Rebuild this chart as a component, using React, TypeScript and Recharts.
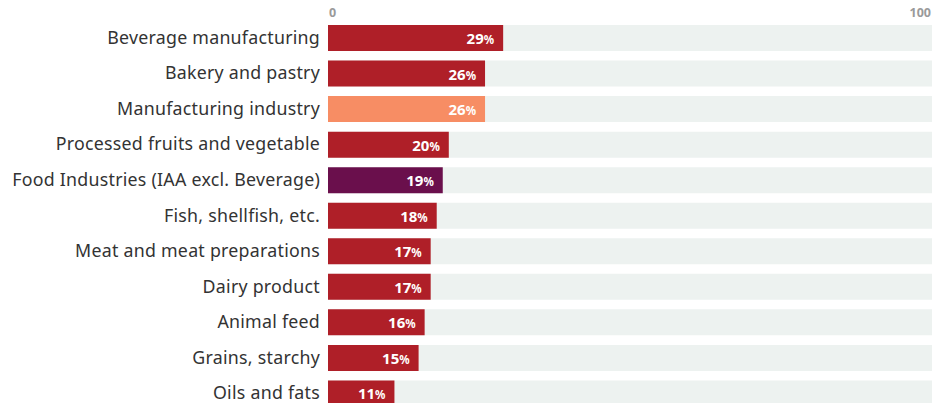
import React from "react";
import { BarChart, Bar, XAxis, YAxis, Cell, LabelList } from "recharts";

const categories = [
  "Beverage manufacturing",
  "Bakery and pastry",
  "Manufacturing industry",
  "Processed fruits and vegetable",
  "Food Industries (IAA excl. Beverage)",
  "Fish, shellfish, etc.",
  "Meat and meat preparations",
  "Dairy product",
  "Animal feed",
  "Grains, starchy",
  "Oils and fats",
];
const shares = [29, 26, 26, 20, 19, 18, 17, 17, 16, 15, 11];
const groups = ["sector", "sector", "total", "sector", "food", "sector", "sector", "sector", "sector", "sector", "sector"];
const axisTicks = [0, 100];

const groupColors: Record<string, string> = {
  sector: "#AF1F28",
  total: "#F78D64",
  food: "#6A0F4C",
};

const data = categories.map((name, i) => ({ name, value: shares[i], group: groups[i] }));

const FONT = "'Noto Sans', sans-serif";

const CategoryTick = (props: any) => {
  const { x, y, payload } = props;
  return (
    <text x={x} y={y} dy={6} textAnchor="end" fill="#333333" fontSize={17.8} fontFamily={FONT} letterSpacing={0.25}>
      {payload.value}
    </text>
  );
};

const ScaleTick = (props: any) => {
  const { x, payload } = props;
  const anchor = payload.value === 0 ? "start" : "end";
  return (
    <text x={x + (payload.value === 0 ? 1 : 0)} y={17} textAnchor={anchor} fill="#9A9A9A" fontSize={12.5} fontWeight={700} fontFamily={FONT}>
      {payload.value}
    </text>
  );
};

const ValueLabel = (props: any) => {
  const { x, y, width, height, value } = props;
  return (
    <text x={x + width - 9} y={y + height / 2} dy={6} textAnchor="end" fill="#FFFFFF" fontFamily={FONT} fontWeight={700}>
      <tspan fontSize={15}>{value}</tspan>
      <tspan fontSize={11.5}>%</tspan>
    </text>
  );
};

export default function App() {
  return (
    <div style={{ position: "absolute", left: 0, top: 0 }}>
      <BarChart
        width={943}
        height={411}
        data={data}
        layout="vertical"
        margin={{ top: 0, right: 11, bottom: 0, left: 0 }}
        barCategoryGap={9.5}
      >
        <XAxis
          type="number"
          orientation="top"
          domain={[0, 100]}
          ticks={axisTicks}
          axisLine={false}
          tickLine={false}
          height={20}
          tick={<ScaleTick />}
        />
        <YAxis
          type="category"
          dataKey="name"
          width={328}
          axisLine={false}
          tickLine={false}
          tick={<CategoryTick />}
          interval={0}
        />
        <Bar dataKey="value" background={{ fill: "#EDF2F0" }} isAnimationActive={false} barSize={26}>
          {data.map((d, i) => (
            <Cell key={i} fill={groupColors[d.group]} />
          ))}
          <LabelList dataKey="value" content={<ValueLabel />} />
        </Bar>
      </BarChart>
    </div>
  );
}
